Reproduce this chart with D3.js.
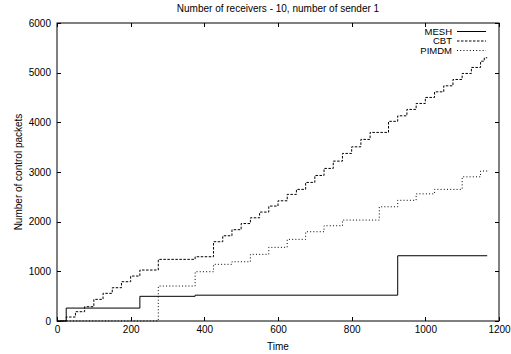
<!DOCTYPE html>
<html>
<head>
<meta charset="utf-8">
<script src="https://cdn.jsdelivr.net/npm/d3@7"></script>
<style>
  body { margin: 0; background: #fff; }
  text { font-family: "Liberation Sans", Arial, sans-serif; fill: #000; }
</style>
</head>
<body>
<svg id="chart"></svg>
<script>
// step points: [time, packets], value holds until next time
const meshTimes = [0, 25, 225, 375, 925, 1168];
const meshValues = [0, 260, 497, 520, 1314, 1314];

const cbtTimes = [0, 25, 50, 75, 100, 125, 150, 175, 200, 225, 275, 375, 425, 450, 475, 500,
    525, 550, 575, 600, 625, 650, 675, 700, 725, 750, 775, 800, 825, 850, 900, 925, 950, 975,
    1000, 1025, 1050, 1075, 1100, 1125, 1150, 1160, 1168];
const cbtValues = [0, 80, 187, 288, 436, 557, 670, 791, 905, 1026, 1241, 1294, 1596, 1716, 1838, 1962,
    2078, 2193, 2314, 2420, 2549, 2650, 2790, 2930, 3072, 3219, 3374, 3507, 3656, 3797, 4020, 4131, 4260, 4380,
    4501, 4614, 4735, 4863, 4984, 5105, 5231, 5300, 5300];

const pimdmTimes = [0, 275, 375, 425, 475, 525, 575, 625, 675, 725, 775, 875, 925, 975, 1025, 1100, 1150, 1168];
const pimdmValues = [0, 704, 992, 1141, 1193, 1342, 1483, 1644, 1797, 1918, 2032, 2300, 2430, 2560, 2650, 2903, 3020, 3020];

const seriesNames = ['MESH', 'CBT', 'PIMDM'];
const xTicks = [0, 200, 400, 600, 800, 1000, 1200];
const yTicks = [0, 1000, 2000, 3000, 4000, 5000, 6000];

window.Chart = window.Chart || {};

Chart.init = function() {
    Chart.setup.initConst();
    Chart.setup.initObjects();
    Chart.core.draw();
};

Chart.core = {
    draw: function() {
        Chart.core.drawFrame();
        Chart.core.drawTicks();
        Chart.core.drawLabels();
        Chart.series.forEach(function(s) { Chart.core.drawSeries(s); });
        Chart.core.drawLegend();
    },

    drawFrame: function() {
        Chart.svg.append('rect')
            .attr('x', Chart.left).attr('y', Chart.top)
            .attr('width', Chart.right - Chart.left)
            .attr('height', Chart.bottom - Chart.top)
            .attr('fill', 'none').attr('stroke', '#000').attr('stroke-width', 1);
    },

    drawTicks: function() {
        let tl = 4;
        let xAxis = d3.axisBottom(Chart.x).tickValues(xTicks).tickSize(0).tickPadding(5).tickFormat(d3.format('d'));
        let gx = Chart.svg.append('g').attr('transform', 'translate(0,' + Chart.bottom + ')').call(xAxis);
        gx.select('.domain').remove();
        gx.selectAll('text').attr('font-size', Chart.fs).attr('font-family', '"Liberation Sans", Arial, sans-serif');

        let yAxis = d3.axisLeft(Chart.y).tickValues(yTicks).tickSize(0).tickPadding(6).tickFormat(d3.format('d'));
        let gy = Chart.svg.append('g').attr('transform', 'translate(' + Chart.left + ',0)').call(yAxis);
        gy.select('.domain').remove();
        gy.selectAll('text').attr('font-size', Chart.fs).attr('font-family', '"Liberation Sans", Arial, sans-serif');

        // inward ticks, mirrored on all sides
        let tg = Chart.svg.append('g').attr('stroke', '#000').attr('stroke-width', 1);
        xTicks.forEach(function(t) {
            let px = Math.round(Chart.x(t)) + 0.5;
            tg.append('line').attr('x1', px).attr('x2', px).attr('y1', Chart.bottom).attr('y2', Chart.bottom - tl);
            tg.append('line').attr('x1', px).attr('x2', px).attr('y1', Chart.top).attr('y2', Chart.top + tl);
        });
        yTicks.forEach(function(t) {
            let py = Math.round(Chart.y(t)) + 0.5;
            tg.append('line').attr('x1', Chart.left).attr('x2', Chart.left + tl).attr('y1', py).attr('y2', py);
            tg.append('line').attr('x1', Chart.right).attr('x2', Chart.right - tl).attr('y1', py).attr('y2', py);
        });
    },

    drawLabels: function() {
        Chart.svg.append('text')
            .attr('x', 278).attr('y', 11.5)
            .attr('text-anchor', 'middle').attr('font-size', Chart.fs)
            .text('Number of receivers - 10, number of sender 1');
        Chart.svg.append('text')
            .attr('x', 278).attr('y', 349.5)
            .attr('text-anchor', 'middle').attr('font-size', Chart.fs)
            .text('Time');
        Chart.svg.append('text')
            .attr('transform', 'translate(22,172) rotate(-90)')
            .attr('text-anchor', 'middle').attr('font-size', Chart.fs)
            .text('Number of control packets');
    },

    drawSeries: function(s) {
        let pts = s.times.map(function(t, i) { return [t, s.values[i]]; });
        let line = d3.line()
            .x(function(d) { return Chart.x(d[0]); })
            .y(function(d) { return Chart.y(d[1]); })
            .curve(d3.curveStepAfter);
        Chart.svg.append('path')
            .datum(pts)
            .attr('d', line)
            .attr('fill', 'none')
            .attr('stroke', '#000')
            .attr('stroke-width', 1)
            .attr('stroke-dasharray', s.dash);
    },

    drawLegend: function() {
        let g = Chart.svg.append('g');
        Chart.series.forEach(function(s, i) {
            let yy = 31 + i * 9.5;
            g.append('text')
                .attr('x', 452).attr('y', yy + 3.5)
                .attr('text-anchor', 'end').attr('font-size', 9.5)
                .text(s.name);
            g.append('line')
                .attr('x1', 457).attr('x2', 486)
                .attr('y1', yy + 0.5).attr('y2', yy + 0.5)
                .attr('stroke', '#000').attr('stroke-width', 1)
                .attr('stroke-dasharray', s.dash);
        });
    }
};

Chart.setup = {
    initConst: function() {
        Chart.width = 511;
        Chart.height = 354;
        Chart.left = 57;
        Chart.right = 499;
        Chart.top = 23;
        Chart.bottom = 321;
        Chart.fs = 10;
    },

    initObjects: function() {
        Chart.svg = d3.select('#chart')
            .attr('width', Chart.width)
            .attr('height', Chart.height);

        Chart.x = d3.scaleLinear().domain([0, 1200]).range([Chart.left, Chart.right]);
        Chart.y = d3.scaleLinear().domain([0, 6000]).range([Chart.bottom, Chart.top]);

        Chart.series = [
            { name: seriesNames[0], times: meshTimes, values: meshValues, dash: null },
            { name: seriesNames[1], times: cbtTimes, values: cbtValues, dash: '2.5,1.5' },
            { name: seriesNames[2], times: pimdmTimes, values: pimdmValues, dash: '1,2.2' }
        ];
    }
};

Chart.init();
</script>
</body>
</html>
